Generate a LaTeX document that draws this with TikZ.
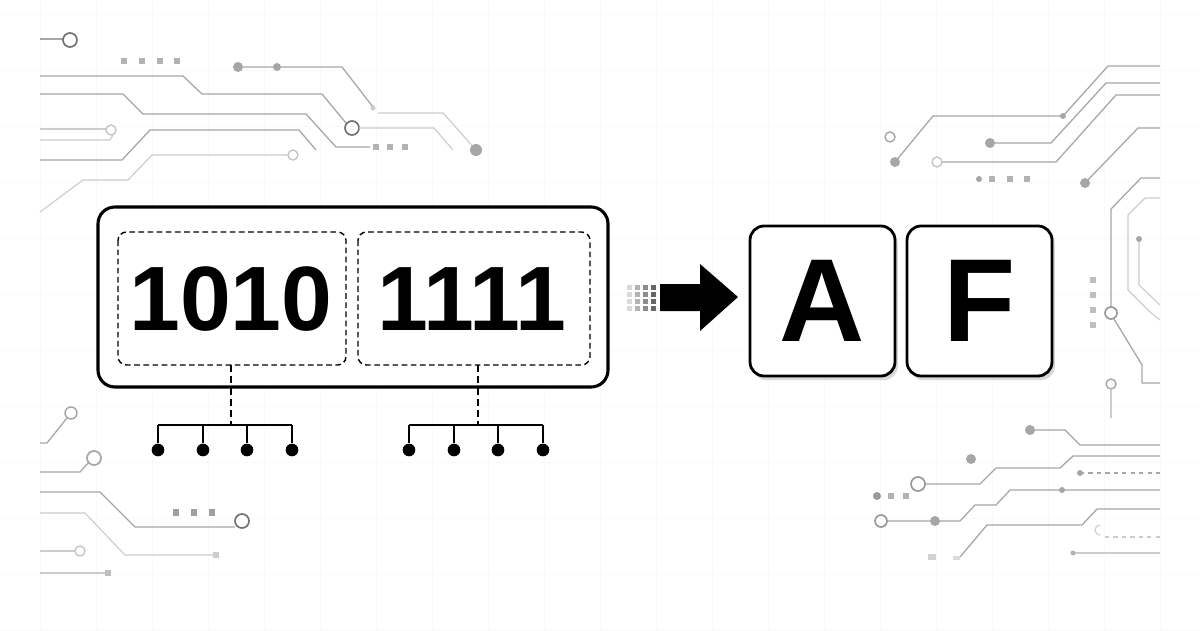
\documentclass[tikz,border=0pt]{standalone}
\usepackage{fontspec}
\setmainfont{Liberation Sans}
\usetikzlibrary{shadows}
\begin{document}
\begin{tikzpicture}[x=0.025cm,y=-0.025cm,
  tr/.style={draw=gray!70,line width=0.9pt},
  trl/.style={draw=gray!40,line width=0.8pt},
  oc/.style={draw=gray!90!black,line width=1.2pt,fill=white},
  ocl/.style={draw=gray!45,line width=1pt,fill=white},
  fc/.style={fill=gray!70},
  sq/.style={fill=gray!60},
  mainbox/.style={draw=black,line width=2.2pt,rounded corners=12pt,fill=white},
  dbox/.style={draw=black,dash pattern=on 4pt off 2.5pt,line width=1pt,rounded corners=6pt},
  conn/.style={draw=black,line width=1.2pt},
  dconn/.style={draw=black,line width=1.2pt,dash pattern=on 5pt off 3pt},
  pin/.style={circle,fill=black,inner sep=0pt,minimum size=9pt},
  letterbox/.style={draw=black,line width=2pt,rounded corners=10pt,fill=white,drop shadow={shadow xshift=2pt,shadow yshift=-3pt,opacity=0.3}},
  big/.style={font=\bfseries\fontsize{65}{70}\selectfont},
  let/.style={font=\bfseries\fontsize{84}{86}\selectfont}]
\useasboundingbox (0,0) rectangle (1200,630);
\fill[white] (0,0) rectangle (1200,630);
\foreach \x in {40,96,...,1160} \draw[gray!5] (\x,0)--(\x,630);
\foreach \y in {14,70,...,630} \draw[gray!5] (0,\y)--(1200,\y);
% ---- left top circuits
\draw[tr] (40,39)--(63,39); \draw[oc] (70,40) circle (7);
\foreach \x in {124,142,160,177} \fill[sq] (\x-3,58) rectangle (\x+3,64);
\draw[tr] (238,67)--(342,67)--(373,107); \fill[fc] (238,67) circle (5); \fill[fc] (277,67) circle (4); \fill[gray!40] (373,108) circle (2.5);
\draw[trl] (378,113)--(443,113)--(476,150); \fill[fc] (476,150) circle (6);
\draw[tr] (40,76)--(183,76)--(202,94)--(322,94)--(346,123);
\draw[oc] (352,128) circle (7);
\draw[trl] (359,128)--(434,128)--(453,150);
\draw[tr] (40,94)--(123,94)--(143,114)--(306,114)--(336,147)--(370,147);
\foreach \x in {376,390,405} \fill[sq] (\x-3,144) rectangle (\x+3,150);
\draw[trl] (40,129)--(106,129); \draw[ocl] (111,130) circle (5);
\draw[trl] (40,140)--(110,140)--(113,135);
\draw[tr] (40,160)--(122,160)--(150,130)--(299,130)--(316,150);
\draw[trl] (40,212)--(83,180)--(128,180)--(152,155)--(288,155); \draw[ocl] (293,155) circle (5);
% ---- right top circuits
\draw[ocl,draw=gray!70] (890,137) circle (5);
\draw[tr] (895,162)--(933,116)--(1063,116)--(1108,66)--(1160,66);
\fill[fc] (895,162) circle (5); \fill[fc] (1063,116) circle (3);
\draw[tr] (990,143)--(1051,143)--(1106,83)--(1160,83); \fill[fc] (990,143) circle (5);
\draw[tr] (942,162)--(1056,162)--(1116,95)--(1160,95); \draw[ocl] (937,162) circle (5);
\fill[fc] (979,179) circle (3);
\foreach \x in {992,1010,1027} \fill[sq] (\x-3,176) rectangle (\x+3,182);
\draw[tr] (1085,183)--(1138,128)--(1160,128); \fill[fc] (1085,183) circle (5);
\draw[tr] (1160,178)--(1141,178)--(1111,209)--(1111,307);
\draw[tr] (1114,319)--(1142,365)--(1142,383)--(1160,383);
\draw[oc,draw=gray!80] (1111,313) circle (6);
\draw[trl] (1160,198)--(1145,198)--(1128,215)--(1128,290)--(1150,312)--(1160,320);
\draw[trl] (1139,239)--(1139,285)--(1160,305); \fill[fc] (1139,239) circle (3);
\foreach \y in {280,295,310,325} \fill[gray!50] (1090,\y-3) rectangle (1096,\y+3);
\draw[ocl,draw=gray!70] (1111,384) circle (5); \draw[trl] (1111,389)--(1111,418);
% ---- left bottom circuits
\draw[tr] (40,443)--(47,443)--(67,418); \draw[ocl,draw=gray!70] (71,413) circle (6);
\draw[tr] (40,472)--(80,472)--(89,462); \draw[oc,draw=gray!70] (94,458) circle (7);
\draw[tr] (40,492)--(100,492)--(135,527)--(235,527); \draw[oc] (242,521) circle (7);
\foreach \x in {176,194,212} \fill[gray!75] (\x-3,509) rectangle (\x+3,516);
\draw[trl] (40,513)--(85,513)--(125,555)--(213,555); \fill[gray!40] (213,552) rectangle (219,558);
\draw[trl] (40,551)--(75,551); \draw[ocl] (80,551) circle (5);
\draw[trl] (40,573)--(105,573); \fill[gray!50] (105,570) rectangle (111,576);
% ---- right bottom circuits
\draw[tr] (1030,430)--(1065,430)--(1080,445)--(1160,445); \fill[fc] (1030,430) circle (5);
\fill[fc] (971,459) circle (5);
\draw[tr] (925,484)--(980,484)--(996,468)--(1060,468)--(1073,456)--(1160,456); \draw[oc,draw=gray!80] (918,484) circle (7);
\draw[tr,dashed] (1080,473)--(1160,473); \fill[fc] (1080,473) circle (3);
\fill[gray!80] (877,496) circle (4);
\foreach \x in {891,906} \fill[sq] (\x-3,493) rectangle (\x+3,499);
\draw[tr] (887,521)--(960,521)--(975,505)--(996,505)--(1010,490)--(1160,490);
\draw[oc,draw=gray!80] (881,521) circle (6); \fill[fc] (935,521) circle (5); \fill[fc] (1062,490) circle (3);
\draw[tr] (960,557)--(987,525)--(1082,525)--(1097,509)--(1160,509);
\fill[gray!35] (928,554) rectangle (936,560); \fill[gray!30] (953,556) rectangle (960,560);
\draw[trl,dashed] (1105,537)--(1160,537); \draw[trl] (1100,535) arc (90:270:5);
\draw[trl] (1073,553)--(1160,553); \fill[gray!60] (1073,553) circle (2.5);
% ---- main box
\draw[mainbox] (98,207) rectangle (608,387);
\draw[dbox] (118,232) rectangle (346,365);
\draw[dbox] (358,232) rectangle (590,365);
\node[big] (n1) at (231,299) {1010};
\node[big] (n2) at (472,299) {1111};
\coordinate (b1) at (231,365); \coordinate (h1) at (231,425);
\coordinate (b2) at (478,365); \coordinate (h2) at (478,425);
\draw[dconn] (b1)--(h1); \draw[dconn] (b2)--(h2);
\draw[conn] (158,425)--(292,425);
\draw[conn] (409,425)--(543,425);
\foreach \x/\n in {158/a,203/b,247/c,292/d} {\node[pin] (p\n) at (\x,450) {}; \draw[conn] (\x,425)--(p\n);}
\foreach \x/\n in {409/e,454/f,498/g,543/h} {\node[pin] (p\n) at (\x,450) {}; \draw[conn] (\x,425)--(p\n);}
% ---- arrow
\foreach \i in {0,1,2,3} \foreach \j in {0,1,2,3}
  {\pgfmathtruncatemacro\sh{15+\i*15}
   \fill[black!\sh] (627+\i*8,285+\j*7) rectangle ++(5,5);}
\fill[black] (660,284)--(700,284)--(700,264)--(738,297)--(700,331)--(700,311)--(660,311)--cycle;
% ---- letters
\draw[letterbox] (750,226) rectangle (895,376);
\draw[letterbox] (907,226) rectangle (1052,376);
\node[let] (A) at (822.5,301) {A};
\node[let] (F) at (979.5,301) {F};
\end{tikzpicture}
\end{document}
